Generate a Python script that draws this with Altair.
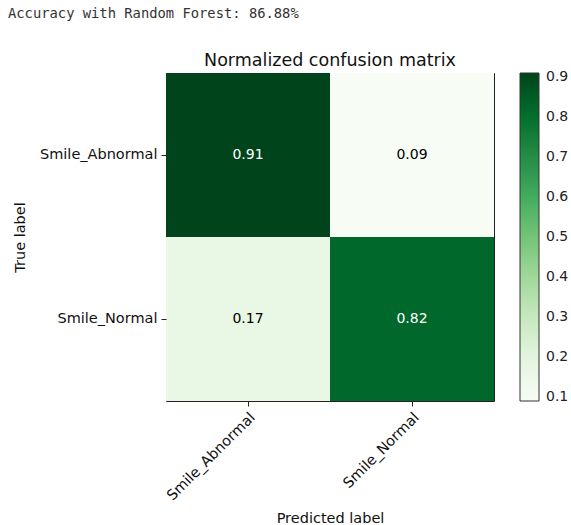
import altair as alt
import numpy as np
import pandas as pd

# Class names and the row-normalized confusion matrix (rows: true, cols: predicted)
classes = ["Smile_Abnormal", "Smile_Normal"]
row_abnormal = [0.91, 0.09]
row_normal = [0.17, 0.82]
accuracy_text = "Accuracy with Random Forest: 86.88%"
plot_title = "Normalized confusion matrix"
legend_ticks = [0.1, 0.2, 0.3, 0.4, 0.5, 0.6, 0.7, 0.8, 0.9]

# ColorBrewer Greens, interpolated linearly between min and max like imshow
greens = ["#f7fcf5", "#e5f5e0", "#c7e9c0", "#a1d99b", "#74c476",
          "#41ab5d", "#238b45", "#006d2c", "#00441b"]

rows = []
for true_name, vals in zip(classes, [row_abnormal, row_normal]):
    for pred_name, v in zip(classes, vals):
        rows.append({"true": true_name, "pred": pred_name, "value": v})
df = pd.DataFrame(rows)

vmin, vmax = df["value"].min(), df["value"].max()
stops = list(np.linspace(vmin, vmax, len(greens)))
thresh = vmax / 2.0

FONT = "DejaVu Sans"
W = H = 328

x_enc = alt.X("pred:N", sort=classes, title="Predicted label",
              axis=alt.Axis(labelAngle=-45, labelAlign="right", labelBaseline="top",
                            titlePadding=9))
y_enc = alt.Y("true:N", sort=classes, title="True label",
              axis=alt.Axis(titlePadding=12))

cells = alt.Chart(df).mark_rect().encode(
    x=x_enc,
    y=y_enc,
    color=alt.Color(
        "value:Q",
        scale=alt.Scale(domain=stops, range=greens, interpolate="rgb"),
        legend=alt.Legend(title=None, values=legend_ticks, format=".1f",
                          orient="right", offset=26, gradientLength=H,
                          gradientThickness=19, gradientStrokeColor="#333333",
                          gradientStrokeWidth=1, labelFontSize=14,
                          labelColor="#222222", labelFont=FONT, labelOffset=7),
    ),
)

labels = alt.Chart(df).mark_text(fontSize=14, font=FONT).encode(
    x=alt.X("pred:N", sort=classes),
    y=alt.Y("true:N", sort=classes),
    text=alt.Text("value:Q", format=".2f"),
    color=alt.condition(alt.datum.value > thresh, alt.value("white"), alt.value("black")),
)

# Notebook-style output line above the figure
header = alt.Chart(pd.DataFrame({"t": [accuracy_text]})).mark_text(
    align="left", baseline="alphabetic", font="DejaVu Sans Mono",
    fontSize=13.8, color="#333333"
).encode(x=alt.value(-158), y=alt.value(-55), text="t:N")

# Axes title centred over the matrix
title = alt.Chart(pd.DataFrame({"t": [plot_title]})).mark_text(
    align="center", baseline="alphabetic", font=FONT,
    fontSize=17.5, color="#111111"
).encode(x=alt.value(W / 2), y=alt.value(-7), text="t:N")

chart = alt.layer(cells, labels, header, title).properties(
    width=W,
    height=H,
    autosize="none",
    background="white",
    padding={"left": 166, "top": 73, "right": 77, "bottom": 124},
).configure_view(
    stroke="#222222", strokeWidth=1
).configure_axis(
    labelFont=FONT, titleFont=FONT, labelFontSize=14.5, titleFontSize=14.5,
    titleFontWeight="normal", labelColor="#111111", titleColor="#111111",
    tickColor="#222222", tickSize=5, domain=False, grid=False, labelPadding=4,
)

chart.save("out.html", embed_options={"renderer": "svg", "actions": False})
